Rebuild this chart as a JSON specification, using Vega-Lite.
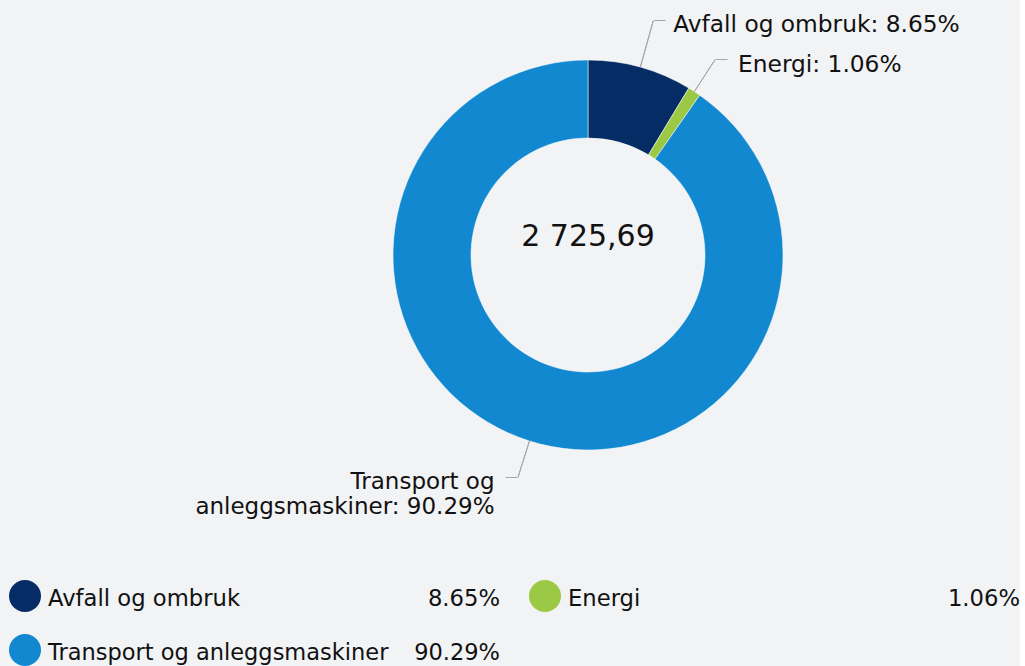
{
  "$schema": "https://vega.github.io/schema/vega-lite/v6.json",
  "background": "#f2f3f5",
  "padding": 0,
  "config": {"view": {"stroke": null}, "font": "DejaVu Sans"},
  "data": {"values": [
    {"category": "Avfall og ombruk", "value": 235.77},
    {"category": "Energi", "value": 28.89},
    {"category": "Transport og anleggsmaskiner", "value": 2461.03}
  ]},
  "spacing": 60,
  "vconcat": [
    {
      "bounds": "flush",
      "spacing": 0,
      "hconcat": [
        {
          "width": 388,
          "height": 510,
          "data": {"values": [{}]},
          "mark": {"type": "text"},
          "encoding": {"text": {"value": ""}}
        },
        {
          "width": 400,
          "height": 510,
          "transform": [
            {"joinaggregate": [{"op": "sum", "field": "value", "as": "total"}]},
            {"window": [{"op": "sum", "field": "value", "as": "cum"}], "sort": [{"field": "category"}], "frame": [null, 0]},
            {"calculate": "datum.cum - datum.value/2", "as": "mid"},
            {"calculate": "format(datum.value/datum.total, '.2%')", "as": "pct"},
            {"calculate": "datum.category + ': ' + datum.pct", "as": "label"}
          ],
          "layer": [
            {
              "mark": {"type": "arc", "outerRadius": 195, "innerRadius": 117, "stroke": "#ffffff", "strokeWidth": 0.5},
              "encoding": {
                "theta": {"field": "value", "type": "quantitative", "stack": true},
                "color": {"field": "category", "type": "nominal", "sort": ["Avfall og ombruk", "Energi", "Transport og anleggsmaskiner"],
                  "scale": {"domain": ["Avfall og ombruk", "Energi", "Transport og anleggsmaskiner"], "range": ["#052c65", "#9bc945", "#1188d0"]},
                  "legend": null},
                "order": {"field": "category", "sort": "ascending"}
              }
            },
            {
              "transform": [{"filter": "datum.category == 'Avfall og ombruk'"}],
              "mark": {"type": "arc", "radius": 243, "radius2": 195, "fill": null, "filled": false, "stroke": "#a6a6a6", "strokeWidth": 1},
              "encoding": {
                "theta": {"field": "mid", "type": "quantitative", "stack": null},
                "theta2": {"field": "mid"}
              }
            },
            {
              "transform": [{"filter": "datum.category != 'Avfall og ombruk'"}],
              "mark": {"type": "arc", "radius": 233, "radius2": 195, "fill": null, "filled": false, "stroke": "#a6a6a6", "strokeWidth": 1},
              "encoding": {
                "theta": {"field": "mid", "type": "quantitative", "stack": null},
                "theta2": {"field": "mid"}
              }
            },
            {
              "transform": [{"filter": "datum.category == 'Avfall og ombruk'"}],
              "mark": {"type": "text", "radius": 243, "align": "left", "baseline": "alphabetic", "fontSize": 13, "dy": 3.5, "color": "#a6a6a6"},
              "encoding": {
                "theta": {"field": "mid", "type": "quantitative", "stack": null},
                "text": {"value": "—"}
              }
            },
            {
              "transform": [{"filter": "datum.category == 'Energi'"}],
              "mark": {"type": "text", "radius": 233, "align": "left", "baseline": "alphabetic", "fontSize": 13, "dy": 3.5, "color": "#a6a6a6"},
              "encoding": {
                "theta": {"field": "mid", "type": "quantitative", "stack": null},
                "text": {"value": "—"}
              }
            },
            {
              "transform": [{"filter": "datum.category == 'Transport og anleggsmaskiner'"}],
              "mark": {"type": "text", "radius": 233, "align": "right", "baseline": "alphabetic", "fontSize": 13, "dy": 3.5, "color": "#a6a6a6"},
              "encoding": {
                "theta": {"field": "mid", "type": "quantitative", "stack": null},
                "text": {"value": "—"}
              }
            },
            {
              "transform": [{"filter": "datum.category == 'Avfall og ombruk'"}],
              "mark": {"type": "text", "radius": 243, "align": "left", "baseline": "alphabetic", "fontSize": 23.3, "dx": 20, "dy": 11.4, "color": "#111111"},
              "encoding": {
                "theta": {"field": "mid", "type": "quantitative", "stack": null},
                "text": {"field": "label"}
              }
            },
            {
              "transform": [{"filter": "datum.category == 'Energi'"}],
              "mark": {"type": "text", "radius": 233, "align": "left", "baseline": "alphabetic", "fontSize": 23.3, "dx": 23, "dy": 12, "color": "#111111"},
              "encoding": {
                "theta": {"field": "mid", "type": "quantitative", "stack": null},
                "text": {"field": "label"}
              }
            },
            {
              "transform": [
                {"filter": "datum.category == 'Transport og anleggsmaskiner'"},
                {"calculate": "replace(datum.label, ' anlegg', '\\nanlegg')", "as": "label2"}
              ],
              "mark": {"type": "text", "radius": 233, "align": "right", "baseline": "alphabetic", "fontSize": 23, "dx": -23.5, "dy": 12, "lineHeight": 25, "lineBreak": "\n", "color": "#111111"},
              "encoding": {
                "theta": {"field": "mid", "type": "quantitative", "stack": null},
                "text": {"field": "label2"}
              }
            },
            {
              "transform": [
                {"aggregate": [{"op": "sum", "field": "value", "as": "total"}]},
                {"calculate": "replace(replace(format(datum.total, ',.2f'), ',', ' '), '.', ',')", "as": "totalText"}
              ],
              "mark": {"type": "text", "align": "center", "baseline": "alphabetic", "fontSize": 30, "dy": -9, "color": "#111111"},
              "encoding": {"text": {"field": "totalText"}}
            }
          ]
        }
      ]
    },
    {
      "spacing": 22,
      "vconcat": [
        {
          "spacing": 20,
          "hconcat": [
            {
              "width": 500,
              "height": 32,
              "transform": [
                {"joinaggregate": [{"op": "sum", "field": "value", "as": "total"}]},
                {"calculate": "format(datum.value/datum.total, '.2%')", "as": "pct"},
                {"filter": "datum.category == 'Avfall og ombruk'"}
              ],
              "layer": [
                {
                  "mark": {"type": "point", "filled": true, "shape": "circle", "size": 1024, "opacity": 1},
                  "encoding": {
                    "x": {"value": 25},
                    "color": {"field": "category", "type": "nominal",
                      "scale": {"domain": ["Avfall og ombruk", "Energi", "Transport og anleggsmaskiner"], "range": ["#052c65", "#9bc945", "#1188d0"]},
                      "legend": null}
                  }
                },
                {
                  "mark": {"type": "text", "align": "left", "baseline": "alphabetic", "fontSize": 22.7, "dy": 10, "color": "#111111"},
                  "encoding": {"x": {"value": 48}, "text": {"field": "category"}}
                },
                {
                  "mark": {"type": "text", "align": "right", "baseline": "alphabetic", "fontSize": 22.7, "dy": 10, "color": "#111111"},
                  "encoding": {"x": {"value": "width"}, "text": {"field": "pct"}}
                }
              ]
            },
            {
              "width": 500,
              "height": 32,
              "transform": [
                {"joinaggregate": [{"op": "sum", "field": "value", "as": "total"}]},
                {"calculate": "format(datum.value/datum.total, '.2%')", "as": "pct"},
                {"filter": "datum.category == 'Energi'"}
              ],
              "layer": [
                {
                  "mark": {"type": "point", "filled": true, "shape": "circle", "size": 1024, "opacity": 1},
                  "encoding": {
                    "x": {"value": 25},
                    "color": {"field": "category", "type": "nominal",
                      "scale": {"domain": ["Avfall og ombruk", "Energi", "Transport og anleggsmaskiner"], "range": ["#052c65", "#9bc945", "#1188d0"]},
                      "legend": null}
                  }
                },
                {
                  "mark": {"type": "text", "align": "left", "baseline": "alphabetic", "fontSize": 22.7, "dy": 10, "color": "#111111"},
                  "encoding": {"x": {"value": 48}, "text": {"field": "category"}}
                },
                {
                  "mark": {"type": "text", "align": "right", "baseline": "alphabetic", "fontSize": 22.7, "dy": 10, "color": "#111111"},
                  "encoding": {"x": {"value": "width"}, "text": {"field": "pct"}}
                }
              ]
            }
          ]
        },
        {
          "width": 500,
          "height": 32,
          "transform": [
            {"joinaggregate": [{"op": "sum", "field": "value", "as": "total"}]},
            {"calculate": "format(datum.value/datum.total, '.2%')", "as": "pct"},
            {"filter": "datum.category == 'Transport og anleggsmaskiner'"}
          ],
          "layer": [
            {
              "mark": {"type": "point", "filled": true, "shape": "circle", "size": 1024, "opacity": 1},
              "encoding": {
                "x": {"value": 25},
                "color": {"field": "category", "type": "nominal",
                  "scale": {"domain": ["Avfall og ombruk", "Energi", "Transport og anleggsmaskiner"], "range": ["#052c65", "#9bc945", "#1188d0"]},
                  "legend": null}
              }
            },
            {
              "mark": {"type": "text", "align": "left", "baseline": "alphabetic", "fontSize": 22.5, "dy": 10, "color": "#111111"},
              "encoding": {"x": {"value": 48}, "text": {"field": "category"}}
            },
            {
              "mark": {"type": "text", "align": "right", "baseline": "alphabetic", "fontSize": 22.5, "dy": 10, "color": "#111111"},
              "encoding": {"x": {"value": "width"}, "text": {"field": "pct"}}
            }
          ]
        }
      ]
    }
  ]
}
